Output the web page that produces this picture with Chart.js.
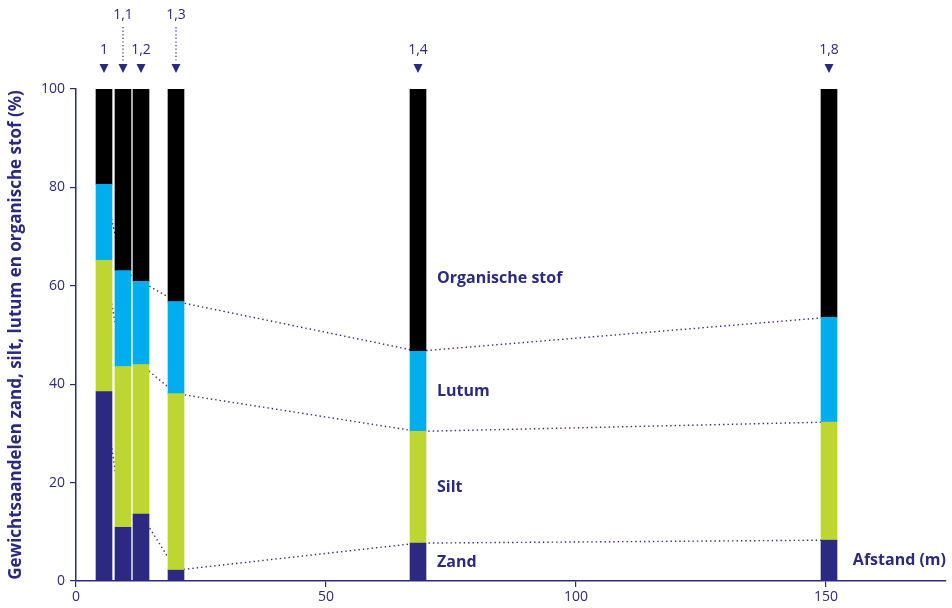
<!DOCTYPE html>
<html>
<head>
<meta charset="utf-8">
<script src="https://cdn.jsdelivr.net/npm/chart.js@4/dist/chart.umd.min.js"></script>
<style>
  html, body { margin:0; padding:0; background:#fff; }
  #wrap { width:952px; height:608px; position:relative; }
</style>
</head>
<body>
<div id="wrap"><canvas id="ch-profile"></canvas></div>
<script>
// ====================== DATA ======================
const afstand   = [5.6, 9.4, 13, 20, 68.4, 150.6];        // m
const hoogte    = ['1', '1,1', '1,2', '1,3', '1,4', '1,8'];
const zand      = [38.5, 10.9, 13.6, 2.2, 7.7, 8.3];
const silt      = [26.7, 32.7, 30.4, 35.9, 22.7, 24.0];
const lutum     = [15.4, 19.5, 16.9, 18.7, 16.3, 21.3];
const organisch = [19.4, 36.9, 39.1, 43.2, 53.3, 46.4];
const fracties  = ['Zand', 'Silt', 'Lutum', 'Organische stof'];
const xTicks    = [0, 50, 100, 150];
const yTicks    = [0, 20, 40, 60, 80, 100];

const NAVY = '#2b2a80';
const COLORS = ['#2b2a80', '#bdd631', '#00adee', '#000000'];
const FONT = 'Open Sans';

const series = [zand, silt, lutum, organisch];
const pts = arr => afstand.map((x, i) => ({ x, y: arr[i] }));
const cum = n => afstand.map((x, i) => ({ x, y: series.slice(0, n).reduce((a, s) => a + s[i], 0) }));

const barSets = series.map((s, k) => ({
  type: 'bar', label: fracties[k], data: pts(s), backgroundColor: COLORS[k],
  barThickness: 16, borderWidth: 0, order: 1
}));
const lineSets = [1, 2, 3].map(n => ({
  type: 'line', data: cum(n), yAxisID: 'yl', borderColor: NAVY, borderWidth: 1.4,
  borderDash: [1.4, 3], pointRadius: 0, fill: false, tension: 0, order: 2
}));

// ====================== ANNOTATIONS ======================
const annot = {
  id: 'annot',
  afterDraw(chart) {
    const { ctx, scales: { x, y } } = chart;
    ctx.save();
    // height markers above bars
    const raised = [false, true, false, true, false, false];
    ctx.fillStyle = NAVY; ctx.strokeStyle = NAVY;
    ctx.font = '14px "' + FONT + '"';
    ctx.textAlign = 'center'; ctx.textBaseline = 'middle';
    afstand.forEach((d, i) => {
      const px = x.getPixelForValue(d);
      ctx.beginPath();
      ctx.moveTo(px - 4.5, 64); ctx.lineTo(px + 4.5, 64); ctx.lineTo(px, 73); ctx.closePath(); ctx.fill();
      if (raised[i]) {
        ctx.fillText(hoogte[i], px, 15);
        ctx.save(); ctx.lineWidth = 1.2; ctx.setLineDash([1.2, 2.4]);
        ctx.beginPath(); ctx.moveTo(px, 27); ctx.lineTo(px, 62); ctx.stroke(); ctx.restore();
      } else {
        ctx.fillText(hoogte[i], px, 50);
      }
    });
    // fraction names next to bar 5
    const lx = x.getPixelForValue(afstand[4]) + 19;
    const mids = [zand[4] / 2, zand[4] + silt[4] / 2, zand[4] + silt[4] + lutum[4] / 2, 61.5];
    ctx.font = 'bold 16px "' + FONT + '"';
    ctx.textAlign = 'left';
    fracties.forEach((f, k) => ctx.fillText(f, lx, y.getPixelForValue(mids[k])));
    ctx.textAlign = 'right';
    ctx.fillText('Afstand (m)', chart.chartArea.right, y.bottom - 21);
    ctx.restore();
  }
};

new Chart(document.getElementById('ch-profile'), {
  data: { datasets: [...barSets, ...lineSets] },
  options: {
    responsive: true, maintainAspectRatio: false, animation: false,
    layout: { padding: { top: 89, right: 6, left: 0, bottom: 0 } },
    plugins: { legend: { display: false }, tooltip: { enabled: false } },
    scales: {
      x: {
        type: 'linear', stacked: true, min: 0, max: 174, offset: false,
        afterBuildTicks: s => { s.ticks = xTicks.map(v => ({ value: v })); },
        afterFit: s => { s.height = 27; },
        ticks: { color: NAVY, font: { family: FONT, size: 14 }, padding: 2, maxRotation: 0 },
        grid: { offset: false, drawOnChartArea: false, drawTicks: true, tickLength: 6, color: NAVY, lineWidth: 1.2 },
        border: { color: NAVY, width: 1.5 }
      },
      y: {
        stacked: true, min: 0, max: 100,
        afterBuildTicks: s => { s.ticks = yTicks.map(v => ({ value: v })); },
        afterFit: s => { s.width = 76; },
        ticks: { color: NAVY, font: { family: FONT, size: 14 }, padding: 5 },
        grid: { drawOnChartArea: false, drawTicks: true, tickLength: 6, color: NAVY, lineWidth: 1.2 },
        border: { color: NAVY, width: 1.5 },
        title: { display: true, text: 'Gewichtsaandelen zand, silt, lutum en organische stof (%)',
                 color: NAVY, font: { family: FONT, size: 17, weight: 'bold' }, padding: { top: 6, bottom: 0 } }
      },
      yl: { display: false, min: 0, max: 100, stacked: false }
    }
  },
  plugins: [annot]
});
</script>
</body>
</html>
